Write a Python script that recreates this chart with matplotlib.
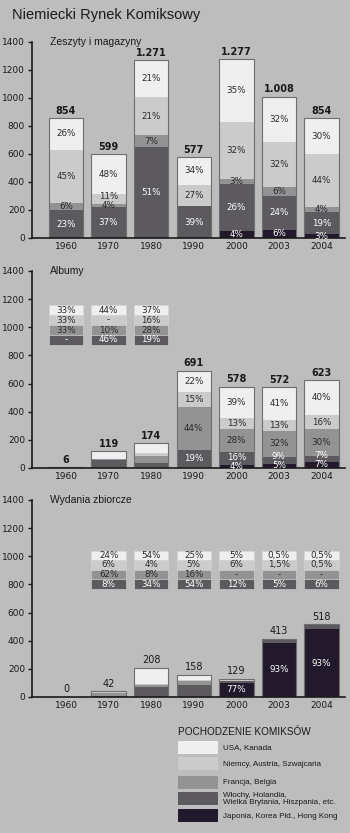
import numpy as np
import matplotlib.pyplot as plt
from matplotlib.patches import Rectangle

years = ["1960", "1970", "1980", "1990", "2000", "2003", "2004"]

# Zeszyty i magazyny
zeszyty_total = [854, 599, 1271, 577, 1277, 1008, 854]
zeszyty_usa = [26, 48, 21, 34, 35, 32, 30]
zeszyty_niemcy = [45, 11, 21, 27, 32, 32, 44]
zeszyty_francja = [6, 4, 7, 0, 3, 6, 4]
zeszyty_wlochy = [23, 37, 51, 39, 26, 24, 19]
zeszyty_japonia = [0, 0, 0, 0, 4, 6, 3]

# Albumy
albumy_total = [6, 119, 174, 691, 578, 572, 623]
albumy_usa = [33, 44, 37, 22, 39, 41, 40]
albumy_niemcy = [33, 0, 16, 15, 13, 13, 16]
albumy_francja = [33, 10, 28, 44, 28, 32, 30]
albumy_wlochy = [0, 46, 19, 19, 16, 9, 7]
albumy_japonia = [0, 0, 0, 0, 4, 5, 7]

# Wydania zbiorcze
zbiorcze_total = [0, 42, 208, 158, 129, 413, 518]
zbiorcze_usa = [0, 24, 54, 25, 5, 0.5, 0.5]
zbiorcze_niemcy = [0, 6, 4, 5, 6, 1.5, 0.5]
zbiorcze_francja = [0, 62, 8, 16, 0, 0, 0]
zbiorcze_wlochy = [0, 8, 34, 54, 12, 5, 6]
zbiorcze_japonia = [0, 0, 0, 0, 77, 93, 93]

legend_labels = ["USA, Kanada", "Niemcy, Austria, Szwajcaria", "Francja, Belgia",
                 "Włochy, Holandia,\nWielka Brytania, Hiszpania, etc.",
                 "Japonia, Korea Płd., Hong Kong"]

BG = "#bdbdbd"
COLORS = {"usa": "#efefef", "niemcy": "#cbcbcb", "francja": "#939393",
          "wlochy": "#5c5a5f", "japonia": "#22192c"}
TXT = {"usa": "#2a2a2a", "niemcy": "#2a2a2a", "francja": "#2a2a2a",
       "wlochy": "white", "japonia": "white"}
STACK = ["japonia", "wlochy", "francja", "niemcy", "usa"]
WIDTH = 0.81
MIN_SEP = 64  # minimal vertical gap between labels in one bar (data units)


def pct(v):
    if v == 0:
        return "-"
    return ("%g" % v).replace(".", ",") + "%"


def total_str(n):
    return f"{n:,}".replace(",", ".")


def draw_panel(ax, title, total, shares, inbar, table_cols=(), table_top=0,
               row_h=0, bold_totals=True):
    x = np.arange(len(years))
    total = np.array(total, dtype=float)
    bottom = np.zeros(len(years))
    last_label = np.full(len(years), -1e9)
    for key in STACK:
        h = total * np.array(shares[key]) / 100
        ax.bar(x, h, bottom=bottom, width=WIDTH, color=COLORS[key], linewidth=0)
        for i in range(len(years)):
            if shares[key][i] > 0 and (i, key) in inbar:
                y = max(bottom[i] + h[i] / 2, last_label[i] + MIN_SEP)
                last_label[i] = y
                ax.text(x[i], y, pct(shares[key][i]),
                        ha="center", va="center", fontsize=6.3, color=TXT[key])
        bottom += h
    for i in range(len(years)):
        if total[i] > 0:
            ax.add_patch(Rectangle((x[i] - WIDTH / 2, 0), WIDTH, total[i],
                                   fill=False, edgecolor="#6e6e6e", lw=0.8))
        ax.text(x[i], total[i] + 18, total_str(int(total[i])), ha="center",
                va="bottom", fontsize=7, color="#1a1a1a",
                fontweight="bold" if bold_totals else "normal")

    # small tables of shares above the bars
    for i in table_cols:
        for r, key in enumerate(["usa", "niemcy", "francja", "wlochy"]):
            y0 = table_top - (r + 1) * row_h
            ax.add_patch(Rectangle((x[i] - WIDTH / 2, y0), WIDTH, row_h,
                                   facecolor=COLORS[key], edgecolor="#d6d6d6", lw=0.4))
            ax.text(x[i], y0 + row_h / 2, pct(shares[key][i]), ha="center",
                    va="center", fontsize=6.3, color=TXT[key])

    ax.set_facecolor(BG)
    ax.set_xlim(-0.80, 6.55)
    ax.set_ylim(0, 1400)
    ax.set_yticks(range(0, 1401, 200))
    ax.set_xticks(x)
    ax.set_xticklabels(years)
    ax.tick_params(axis="x", length=0, pad=3, labelsize=6.5, colors="#1a1a1a")
    ax.tick_params(axis="y", length=3, width=1, pad=2, labelsize=6.5, colors="#1a1a1a")
    for s in ["top", "right"]:
        ax.spines[s].set_visible(False)
    for s in ["left", "bottom"]:
        ax.spines[s].set_linewidth(1.2)
        ax.spines[s].set_color("#1a1a1a")
    ax.text(0.058, 1.0, title, transform=ax.transAxes, ha="left", va="center",
            fontsize=7.5, family="Liberation Sans", color="#1a1a1a")


fig = plt.figure(figsize=(3.5, 8.33), dpi=100, facecolor=BG)

fig.text(12 / 350, 1 - 15 / 833, "Niemiecki Rynek Komiksowy", fontsize=10.5,
         family="Liberation Sans", color="#1a1a1a", ha="left", va="center")

ax1 = fig.add_axes([0.0914, 0.7143, 0.894, 0.2353])
ax2 = fig.add_axes([0.0914, 0.4382, 0.894, 0.2365])
ax3 = fig.add_axes([0.0914, 0.1633, 0.894, 0.2365])

sh1 = {"usa": zeszyty_usa, "niemcy": zeszyty_niemcy, "francja": zeszyty_francja,
       "wlochy": zeszyty_wlochy, "japonia": zeszyty_japonia}
sh2 = {"usa": albumy_usa, "niemcy": albumy_niemcy, "francja": albumy_francja,
       "wlochy": albumy_wlochy, "japonia": albumy_japonia}
sh3 = {"usa": zbiorcze_usa, "niemcy": zbiorcze_niemcy, "francja": zbiorcze_francja,
       "wlochy": zbiorcze_wlochy, "japonia": zbiorcze_japonia}

all_keys = set((i, k) for i in range(7) for k in STACK)
draw_panel(ax1, "Zeszyty i magazyny", zeszyty_total, sh1, all_keys)
draw_panel(ax2, "Albumy", albumy_total, sh2,
           set((i, k) for i in range(3, 7) for k in STACK),
           table_cols=range(0, 3), table_top=1158, row_h=71)
draw_panel(ax3, "Wydania zbiorcze", zbiorcze_total, sh3,
           set((i, "japonia") for i in range(7)),
           table_cols=range(1, 7), table_top=1040, row_h=68, bold_totals=False)

# legend in pixel coordinates
lg = fig.add_axes([0, 0, 1, 1], facecolor="none")
lg.set_xlim(0, 350)
lg.set_ylim(833, 0)
lg.axis("off")
lg.text(178, 732, "POCHODZENIE KOMIKSÓW", fontsize=7.2, family="Liberation Sans",
        ha="left", va="center", color="#1a1a1a")
sw_top = [741, 757, 776, 792, 809]
for key, lab, top in zip(["usa", "niemcy", "francja", "wlochy", "japonia"],
                         legend_labels, sw_top):
    lg.add_patch(Rectangle((178, top), 40, 13, facecolor=COLORS[key], lw=0))
    lg.text(223, top + 7, lab, fontsize=5.8, family="Liberation Sans",
            ha="left", va="center", color="#1a1a1a", linespacing=1.1)

fig.savefig("out.png", dpi=100, facecolor=BG)
